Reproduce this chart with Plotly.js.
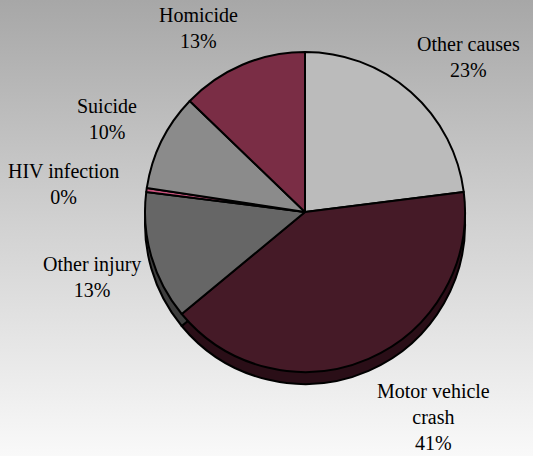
<!DOCTYPE html>
<html>
<head>
<meta charset="utf-8">
<script src="https://cdn.plot.ly/plotly-3.0.1.min.js"></script>
<style>
  html, body { margin: 0; padding: 0; }
  body { width: 533px; height: 456px; background: linear-gradient(to bottom, #a7a7a7 0%, #d2d2d2 50%, #f9f9f9 100%); }
  #chart { width: 533px; height: 456px; }
</style>
</head>
<body>
<div id="chart"></div>
<script>
// Data (clockwise from 12 o'clock)
const categories = ["Other causes", "Motor vehicle crash", "Other injury", "HIV infection", "Suicide", "Homicide"];
const values = [23, 41, 13, 0.4, 9.8, 12.8];
const displayLabels = ["Other causes", "Motor vehicle<br>crash", "Other injury", "HIV infection", "Suicide", "Homicide"];

// Styles
const topColors = ["#bbbbbb", "#451a27", "#666666", "#c9527c", "#8b8b8b", "#7a2d45"];
const sideColors = ["#8a8a8a", "#2a0e17", "#3e3e3e", "#8a3050", "#5c5c5c", "#4e1a2b"];
const labelPos = [[468, 57], [433, 417], [92, 277], [63, 184], [107, 119], [198, 28]];
const serif = "Liberation Serif, DejaVu Serif, serif";

const W = 533, H = 456;
const pieX = [145 / W, 465 / W];
const pieY = [1 - 372 / H, 1 - 52 / H];
const depth = 12 / H;

const total = values.reduce((a, b) => a + b, 0);

const common = {
  type: 'pie',
  labels: categories,
  values: values,
  sort: false,
  direction: 'clockwise',
  rotation: 0,
  textinfo: 'none',
  hoverinfo: 'label+percent',
  showlegend: false
};

const sideTrace = Object.assign({}, common, {
  domain: { x: pieX, y: [pieY[0] - depth, pieY[1] - depth] },
  marker: { colors: sideColors, line: { color: '#000000', width: 2 } }
});
const topTrace = Object.assign({}, common, {
  domain: { x: pieX, y: pieY },
  marker: { colors: topColors, line: { color: '#000000', width: 2 } }
});

const annotations = categories.map((c, i) => ({
  xref: 'paper', yref: 'paper',
  x: labelPos[i][0] / W, y: 1 - labelPos[i][1] / H,
  xanchor: 'center', yanchor: 'middle',
  text: displayLabels[i] + '<br>' + Math.round(values[i] / total * 100) + '%',
  showarrow: false,
  align: 'center',
  font: { family: serif, size: 20, color: '#000000' }
}));

const layout = {
  width: W, height: H,
  margin: { l: 0, r: 0, t: 0, b: 0 },
  paper_bgcolor: 'rgba(0,0,0,0)',
  plot_bgcolor: 'rgba(0,0,0,0)',
  font: { family: serif },
  annotations: annotations
};

Plotly.newPlot('chart', [sideTrace, topTrace], layout, { displayModeBar: false, staticPlot: true });
</script>
</body>
</html>
